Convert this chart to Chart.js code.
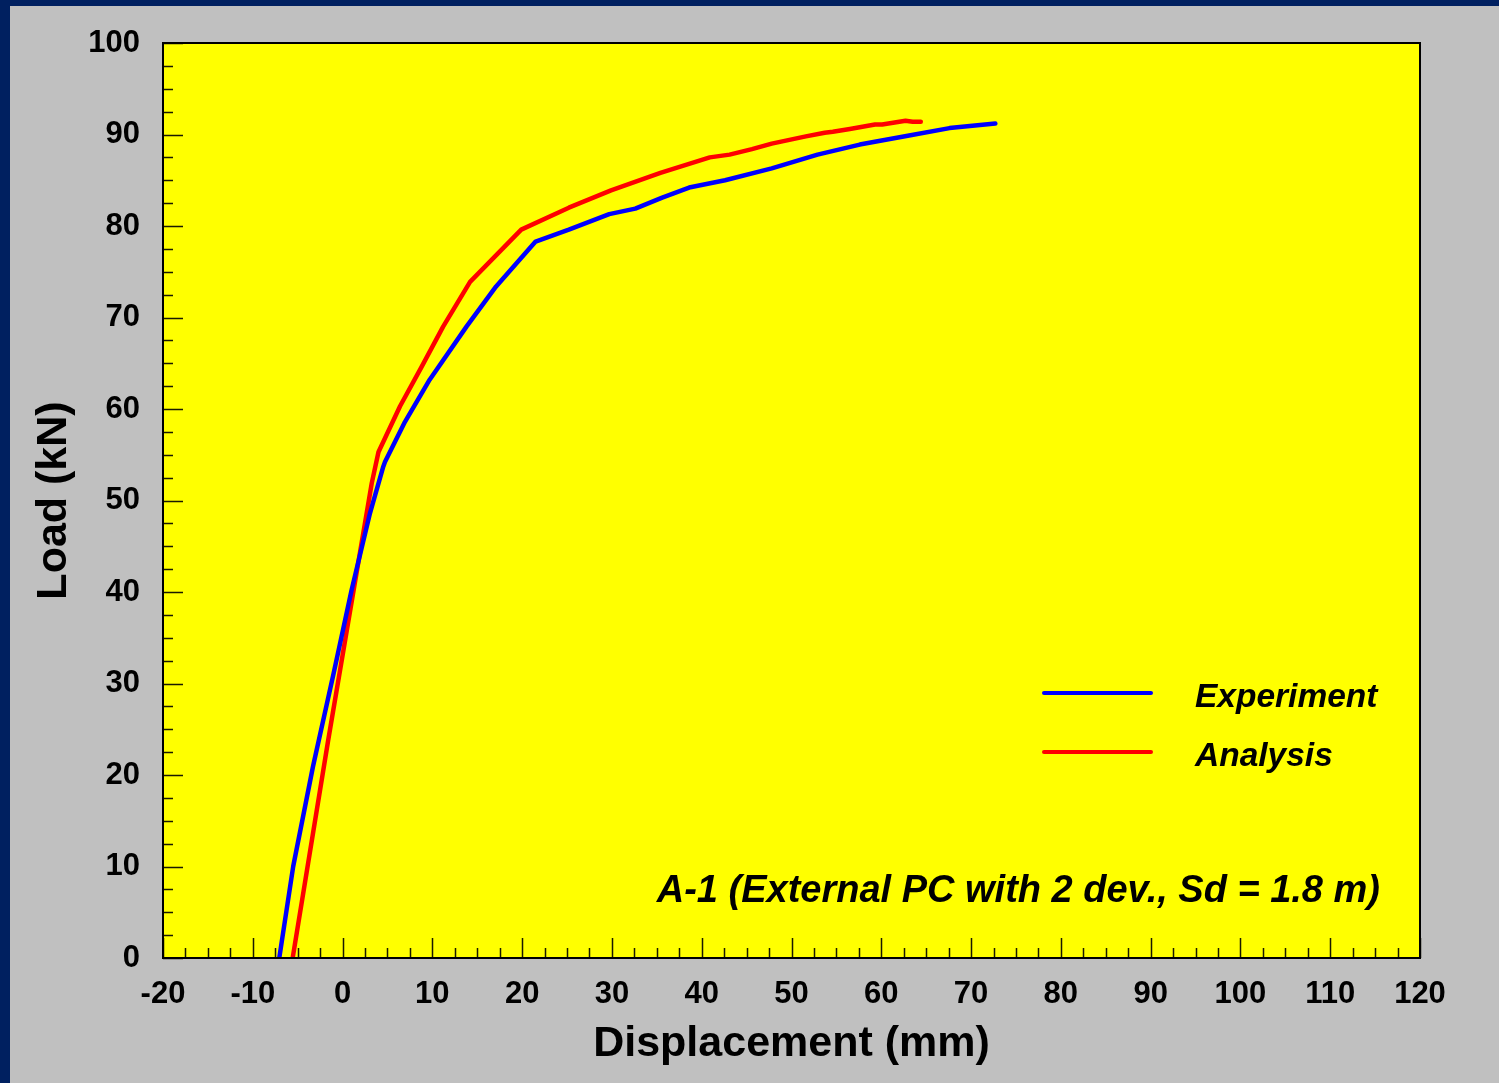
<!DOCTYPE html>
<html>
<head>
<meta charset="utf-8">
<script src="https://cdn.jsdelivr.net/npm/chart.js@4.4.0/dist/chart.umd.min.js"></script>
<style>
  html, body { margin: 0; padding: 0; background: #002060; }
  #wrap { position: relative; width: 1499px; height: 1083px; }
</style>
</head>
<body>
<div id="wrap"><canvas id="loadChart" width="1499" height="1083"></canvas></div>
<script>
// Experiment curve (displacement mm, load kN)
const expX = [-7.05, -5.5, -3.3, -1.0, 1.0, 3.05, 4.5, 4.72, 6.95, 9.7, 13.8, 17.1, 21.5, 25.2, 29.7, 32.6, 35.6, 38.6, 42.6, 47.8, 52.9, 57.6, 63.1, 67.6, 72.7];
const expY = [0, 10.0, 20.9, 31.1, 40.2, 48.6, 53.6, 54.2, 58.6, 63.2, 69.0, 73.4, 78.3, 79.6, 81.3, 81.9, 83.1, 84.2, 85.0, 86.3, 87.8, 88.9, 89.9, 90.7, 91.2];

// Analysis curve
const anaX = [-5.56, -1.6, 1.35, 3.25, 4.0, 6.4, 8.8, 11.2, 14.2, 19.9, 25.2, 29.9, 35.4, 40.9, 43.1, 45.6, 47.8, 51.6, 53.7, 54.6, 56.5, 59.3, 60.1, 62.7, 63.5, 64.4];
const anaY = [0, 23.8, 40.9, 51.9, 55.3, 60.3, 64.6, 69.0, 73.9, 79.6, 82.0, 83.9, 85.8, 87.5, 87.8, 88.4, 89.0, 89.8, 90.2, 90.3, 90.6, 91.1, 91.1, 91.5, 91.4, 91.4];

const xMin = -20, xMax = 120, xStep = 10;
const yMin = 0, yMax = 100, yStep = 10;
const minorStep = 2.5;

const seriesNames = ["Experiment", "Analysis"];
const seriesColors = ["#0000ff", "#ff0000"];
const noteText = "A-1 (External PC with 2 dev., Sd = 1.8 m)";

function toPoints(xs, ys) {
    return xs.map((x, i) => ({ x: x, y: ys[i] }));
}

// background: navy frame + gray panel + yellow plot area
const backgroundPlugin = {
    id: 'bg',
    beforeDraw(chart) {
        const ctx = chart.ctx;
        const a = chart.chartArea;
        ctx.save();
        ctx.fillStyle = '#002060';
        ctx.fillRect(0, 0, chart.width, chart.height);
        ctx.fillStyle = '#c0c0c0';
        ctx.fillRect(10, 6, chart.width - 10, chart.height - 6);
        ctx.fillStyle = '#ffff00';
        ctx.fillRect(a.left, a.top, a.right - a.left, a.bottom - a.top);
        ctx.restore();
    }
};

// inside ticks, plot frame, legend and note
const framePlugin = {
    id: 'frame',
    afterDatasetsDraw(chart) {
        const ctx = chart.ctx;
        const a = chart.chartArea;
        const xs = chart.scales.x;
        const ys = chart.scales.y;
        ctx.save();
        ctx.strokeStyle = '#1a1a00';
        ctx.lineWidth = 1.5;
        ctx.beginPath();
        for (let v = xMin; v <= xMax + 1e-9; v += minorStep) {
            const px = Math.round(xs.getPixelForValue(v)) + 0.5;
            const len = (Math.abs(v % xStep) < 1e-9) ? 20 : 10;
            ctx.moveTo(px, a.bottom);
            ctx.lineTo(px, a.bottom - len);
        }
        for (let v = yMin; v <= yMax + 1e-9; v += minorStep) {
            const py = Math.round(ys.getPixelForValue(v)) + 0.5;
            const len = (Math.abs(v % yStep) < 1e-9) ? 20 : 10;
            ctx.moveTo(a.left, py);
            ctx.lineTo(a.left + len, py);
        }
        ctx.stroke();

        ctx.strokeStyle = '#000000';
        ctx.lineWidth = 2;
        ctx.strokeRect(a.left, a.top, a.right - a.left, a.bottom - a.top);

        // legend
        ctx.lineCap = 'round';
        ctx.lineWidth = 4;
        ctx.font = 'italic bold 33.5px "Liberation Sans", Arial, sans-serif';
        ctx.fillStyle = '#000000';
        ctx.textBaseline = 'alphabetic';
        ctx.textAlign = 'left';
        const legY = [693, 752];
        seriesNames.forEach((name, i) => {
            ctx.strokeStyle = seriesColors[i];
            ctx.beginPath();
            ctx.moveTo(1044, legY[i]);
            ctx.lineTo(1151, legY[i]);
            ctx.stroke();
            ctx.fillText(name, 1195, legY[i] + 14);
        });

        // note
        ctx.textAlign = 'right';
        ctx.font = 'italic bold 38px "Liberation Sans", Arial, sans-serif';
        ctx.fillText(noteText, 1380, 902);
        ctx.restore();
    }
};

function initChart() {
    const ctx = document.getElementById("loadChart").getContext("2d");
    new Chart(ctx, {
        type: 'scatter',
        data: {
            datasets: [
                {
                    label: seriesNames[0],
                    data: toPoints(expX, expY),
                    borderColor: seriesColors[0],
                    backgroundColor: seriesColors[0],
                    borderWidth: 4.5,
                    showLine: true,
                    pointRadius: 0,
                    borderCapStyle: 'round',
                    borderJoinStyle: 'round',
                    tension: 0
                },
                {
                    label: seriesNames[1],
                    data: toPoints(anaX, anaY),
                    borderColor: seriesColors[1],
                    backgroundColor: seriesColors[1],
                    borderWidth: 4.5,
                    showLine: true,
                    pointRadius: 0,
                    borderCapStyle: 'round',
                    borderJoinStyle: 'round',
                    tension: 0
                }
            ]
        },
        options: {
            responsive: false,
            animation: false,
            layout: { padding: { left: 0, top: 43, right: 79, bottom: 0 } },
            plugins: {
                legend: { display: false },
                tooltip: { enabled: false }
            },
            scales: {
                x: {
                    type: 'linear',
                    min: xMin,
                    max: xMax,
                    afterFit(scale) { scale.height = 125; },
                    ticks: {
                        stepSize: xStep,
                        padding: 18,
                        color: '#000000',
                        maxRotation: 0,
                        font: { family: '"Liberation Sans", Arial, sans-serif', size: 31, weight: 'bold' }
                    },
                    grid: { display: false, drawTicks: false },
                    border: { display: false },
                    title: {
                        display: true,
                        text: 'Displacement (mm)',
                        color: '#000000',
                        padding: { top: 0, bottom: 13 },
                        font: { family: '"Liberation Sans", Arial, sans-serif', size: 43, weight: 'bold' }
                    }
                },
                y: {
                    type: 'linear',
                    min: yMin,
                    max: yMax,
                    afterFit(scale) { scale.width = 163; },
                    ticks: {
                        stepSize: yStep,
                        padding: 23,
                        color: '#000000',
                        font: { family: '"Liberation Sans", Arial, sans-serif', size: 31, weight: 'bold' }
                    },
                    grid: { display: false, drawTicks: false },
                    border: { display: false },
                    title: {
                        display: true,
                        text: 'Load (kN)',
                        color: '#000000',
                        padding: { top: 28, bottom: 0 },
                        font: { family: '"Liberation Sans", Arial, sans-serif', size: 43, weight: 'bold' }
                    }
                }
            }
        },
        plugins: [backgroundPlugin, framePlugin]
    });
}

document.addEventListener('DOMContentLoaded', initChart);
</script>
</body>
</html>
